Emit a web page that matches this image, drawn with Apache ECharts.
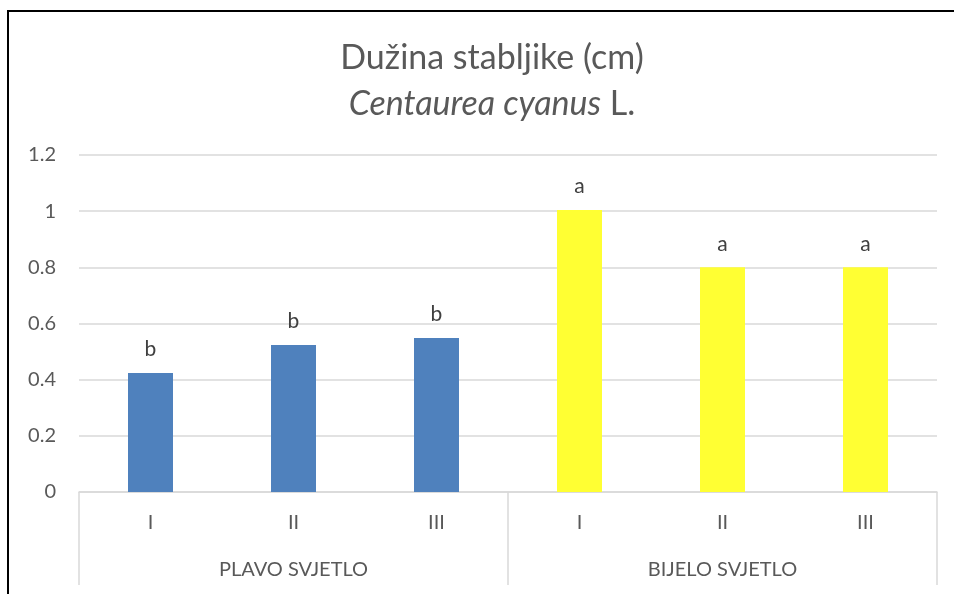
<!DOCTYPE html>
<html>
<head>
<meta charset="utf-8">
<script src="https://cdn.jsdelivr.net/npm/echarts@6/dist/echarts.min.js"></script>
<style>
  html, body { margin: 0; padding: 0; background: #fff; }
  #chart { position: absolute; left: 0; top: 0; width: 954px; height: 594px; }
  /* okvir grafikona (lijevo i gore, ostatak je odrezan) */
  #frame { position: absolute; left: 7px; top: 10px; right: 0; bottom: 0;
           border-left: 2.5px solid #000; border-top: 2.5px solid #000; pointer-events: none; }
</style>
</head>
<body>
<div id="chart"></div>
<div id="frame"></div>
<script>
// podaci
const categories = ['I', 'II', 'III', 'I', 'II', 'III'];
const groups = ['PLAVO SVJETLO', 'BIJELO SVJETLO'];
const groupOf = [0, 0, 0, 1, 1, 1];
const values = [0.424, 0.523, 0.548, 1.004, 0.8, 0.8];
const letters = ['b', 'b', 'b', 'a', 'a', 'a'];
const yTicks = [0, 0.2, 0.4, 0.6, 0.8, 1, 1.2];

const groupColors = ['#4F81BD', '#FFFF33'];
const font = 'Lato, "Open Sans", sans-serif';
const grey = '#595959';

const chart = echarts.init(document.getElementById('chart'));

chart.setOption({
  animation: false,
  title: [{
    text: 'Dužina stabljike (cm)',
    left: 487,
    textAlign: 'center',
    top: 36,
    textStyle: { fontFamily: font, fontSize: 34, fontWeight: 'normal', color: grey }
  }, {
    text: '{i|Centaurea cyanus} L.',
    left: 487,
    textAlign: 'center',
    top: 82,
    textStyle: {
      fontFamily: font, fontSize: 34, fontWeight: 'normal', color: grey,
      rich: { i: { fontFamily: font, fontSize: 34, fontStyle: 'italic', color: grey } }
    }
  }],
  grid: { left: 79, right: 17, top: 155, bottom: 102 },
  xAxis: [{
    type: 'category',
    data: categories,
    axisLine: { lineStyle: { color: '#d9d9d9', width: 1.5 } },
    axisTick: { show: false },
    axisLabel: { fontFamily: font, fontSize: 20, color: grey, margin: 21 }
  }, {
    type: 'category',
    data: groups,
    position: 'bottom',
    axisLine: { show: false },
    axisTick: { show: true, length: 93, lineStyle: { color: '#d9d9d9', width: 1.5 } },
    axisLabel: { fontFamily: font, fontSize: 20, color: grey, margin: 68 }
  }],
  yAxis: {
    type: 'value',
    min: yTicks[0],
    max: yTicks[yTicks.length - 1],
    interval: 0.2,
    axisLine: { show: false },
    axisTick: { show: false },
    splitLine: { lineStyle: { color: '#d9d9d9', width: 1.5 } },
    axisLabel: { fontFamily: font, fontSize: 20, color: grey, margin: 23 }
  },
  series: [{
    type: 'bar',
    xAxisIndex: 0,
    barWidth: 45,
    data: values.map((v, i) => ({
      value: v,
      itemStyle: { color: groupColors[groupOf[i]] },
      label: { formatter: letters[i] }
    })),
    label: {
      show: true,
      position: 'top',
      distance: 13,
      fontFamily: font,
      fontSize: 21,
      color: '#404040'
    }
  }]
});
</script>
</body>
</html>
